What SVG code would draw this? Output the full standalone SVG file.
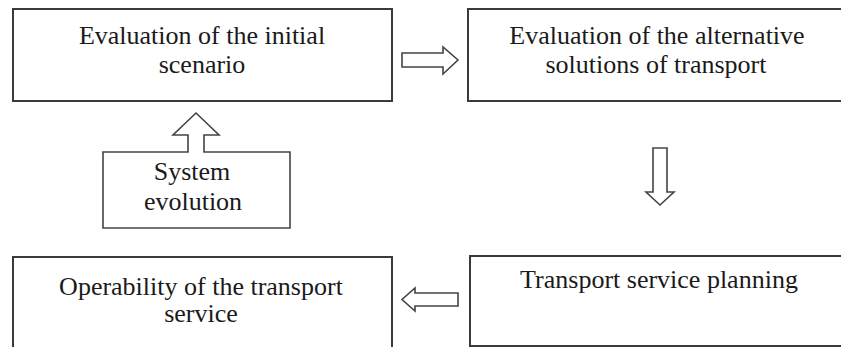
<svg xmlns="http://www.w3.org/2000/svg" width="841" height="347" viewBox="0 0 841 347">
<style>
.box{fill:#fff;stroke:#3a3a3a;stroke-width:2}
.arr{fill:#fff;stroke:#444;stroke-width:1.6;stroke-linejoin:miter}
.t{font-family:"Liberation Serif","Times New Roman",serif;font-size:26px;fill:#1a1a1a;text-anchor:middle}
</style>
<rect width="841" height="347" fill="#fff"/>
<g id="node-initial">
<rect class="box" x="13" y="9" width="379" height="92"/>
<text class="t" x="202" y="44">Evaluation of the initial</text>
<text class="t" x="202" y="73">scenario</text>
</g>
<g id="node-alternative">
<rect class="box" x="468" y="9" width="380" height="92"/>
<text class="t" x="657" y="44">Evaluation of the alternative</text>
<text class="t" x="656" y="73">solutions of transport</text>
</g>
<g id="node-planning">
<rect class="box" x="470" y="256" width="380" height="90"/>
<text class="t" x="659" y="288">Transport service planning</text>
</g>
<g id="node-operability">
<rect class="box" x="13" y="257" width="379" height="100"/>
<text class="t" x="201" y="295">Operability of the transport</text>
<text class="t" x="201" y="322">service</text>
</g>
<g id="node-evolution">
<path class="arr" d="M103,152 L188,152 L188,135 L173,135 L196,113 L219,135 L204,135 L204,152 L290,152 L290,228 L103,228 Z"/>
<text class="t" x="192" y="180">System</text>
<text class="t" x="193" y="210">evolution</text>
</g>
<g id="connectors">
<path class="arr" d="M402,53 L443,53 L443,47 L458,60 L443,74 L443,67 L402,67 Z"/>
<path class="arr" d="M653,148 L667,148 L667,192 L674,192 L660,205 L646,192 L653,192 Z"/>
<path class="arr" d="M458,293 L415,293 L415,288 L402,299.5 L415,311 L415,306 L458,306 Z"/>
</g>
</svg>
